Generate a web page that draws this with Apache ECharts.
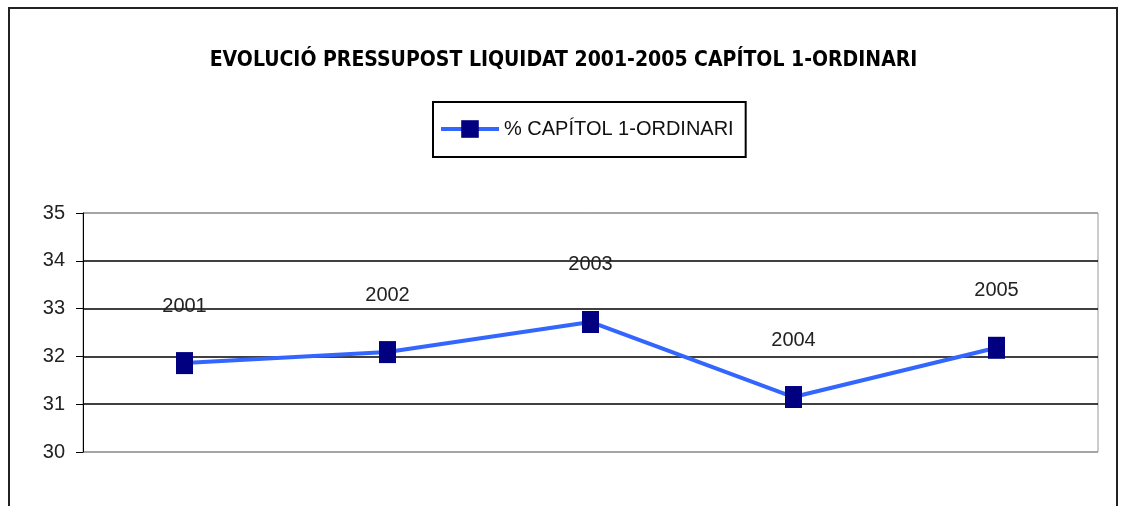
<!DOCTYPE html>
<html>
<head>
<meta charset="utf-8">
<script src="https://cdn.jsdelivr.net/npm/echarts@6/dist/echarts.min.js"></script>
<style>
  html, body { margin: 0; padding: 0; background: #fff; }
  #chart { width: 1127px; height: 506px; }
</style>
</head>
<body>
<div id="chart"></div>
<script>
const years = ['2001', '2002', '2003', '2004', '2005']
const pctCapitol1 = [31.86, 32.09, 32.72, 31.15, 32.18]
const seriesName = '% CAPÍTOL 1-ORDINARI'
const titleText = 'EVOLUCIÓ PRESSUPOST LIQUIDAT 2001-2005 CAPÍTOL 1-ORDINARI'

const myChart = echarts.init(document.getElementById('chart'))

const option = {
  animation: false,
  backgroundColor: '#fff',
  graphic: [
    {
      type: 'rect',
      shape: { x: 9, y: 8, width: 1108, height: 520 },
      style: { fill: 'none', stroke: '#222', lineWidth: 2 },
      silent: true,
    },
  ],
  title: {
    text: titleText,
    left: 'center',
    top: 45,
    textStyle: {
      fontFamily: 'DejaVu Sans Condensed',
      fontWeight: 'bold',
      fontSize: 21,
      color: '#000',
    },
  },
  legend: {
    data: [seriesName],
    left: 433,
    top: 102,
    padding: [17, 12, 18, 6],
    borderColor: '#000',
    borderWidth: 2,
    itemWidth: 58,
    itemHeight: 22,
    itemGap: 4,
    lineStyle: { width: 4 },
    textStyle: {
      fontFamily: 'Liberation Sans',
      fontSize: 20,
      color: '#111',
    },
  },
  grid: {
    left: 83,
    right: 29,
    top: 213,
    bottom: 54,
    show: true,
    borderColor: '#999',
    borderWidth: 1,
  },
  xAxis: {
    type: 'category',
    data: years,
    axisLine: { show: false },
    axisTick: { show: false },
    axisLabel: { show: false },
  },
  yAxis: {
    type: 'value',
    min: 30,
    max: 35,
    interval: 1,
    axisLine: { show: true, lineStyle: { color: '#000', width: 1 } },
    axisTick: { show: true, length: 7, lineStyle: { color: '#000' } },
    axisLabel: {
      margin: 18,
      fontFamily: 'Liberation Sans',
      fontSize: 20,
      color: '#222',
    },
    splitLine: {
      show: true,
      lineStyle: {
        color: ['#999', '#000', '#000', '#000', '#000', '#999'],
        width: 1.5,
      },
    },
  },
  series: [
    {
      name: seriesName,
      type: 'line',
      data: pctCapitol1,
      symbol: 'rect',
      symbolSize: [17, 22],
      itemStyle: { color: '#000080' },
      lineStyle: { color: '#3366ff', width: 4 },
      label: {
        show: true,
        position: 'top',
        distance: 36,
        formatter: '{b}',
        fontFamily: 'Liberation Sans',
        fontSize: 20,
        color: '#222',
      },
    },
  ],
}

option && myChart.setOption(option)
</script>
</body>
</html>
